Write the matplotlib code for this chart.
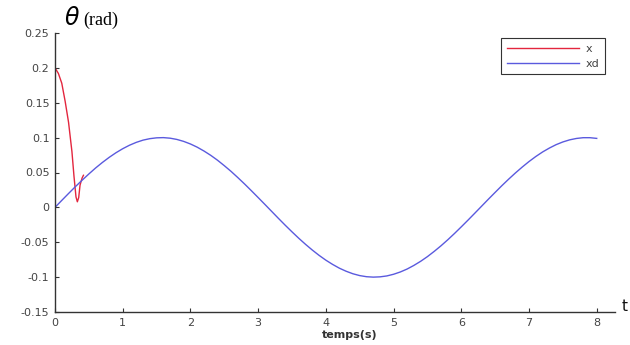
import numpy as np
import matplotlib.pyplot as plt

# time grid (s)
t = np.round(np.arange(81) * 0.1, 1)

# reference trajectory xd (rad), read every 0.1 s
xd = [0.0000, 0.0100, 0.0199, 0.0296, 0.0389, 0.0479, 0.0565, 0.0644, 0.0717, 0.0783,
      0.0841, 0.0891, 0.0932, 0.0964, 0.0985, 0.0997, 0.1000, 0.0992, 0.0974, 0.0946,
      0.0909, 0.0863, 0.0808, 0.0746, 0.0676, 0.0598, 0.0516, 0.0427, 0.0335, 0.0239,
      0.0141, 0.0042, -0.0058, -0.0158, -0.0256, -0.0351, -0.0443, -0.0530, -0.0612, -0.0688,
      -0.0757, -0.0818, -0.0872, -0.0916, -0.0952, -0.0978, -0.0994, -0.1000, -0.0996, -0.0983,
      -0.0959, -0.0926, -0.0884, -0.0832, -0.0773, -0.0706, -0.0631, -0.0551, -0.0465, -0.0374,
      -0.0279, -0.0182, -0.0083, 0.0017, 0.0117, 0.0215, 0.0312, 0.0405, 0.0494, 0.0578,
      0.0657, 0.0729, 0.0794, 0.0850, 0.0899, 0.0938, 0.0968, 0.0988, 0.0999, 0.0999,
      0.0989]

# measured angle x (rad), only the first part of the run
t_x = [0, 0.05, 0.1, 0.15, 0.2, 0.25, 0.28, 0.31, 0.33, 0.35, 0.37, 0.4, 0.42]
x = [0.200, 0.192, 0.178, 0.152, 0.122, 0.080, 0.045, 0.015, 0.008, 0.014, 0.032, 0.042, 0.046]

plt.rcParams['font.family'] = ['DejaVu Sans']

fig = plt.figure(figsize=(6.3, 3.45), dpi=100)
ax = fig.add_axes([55 / 630, 33 / 345, 560 / 630, 279 / 345])

ax.plot(t_x, x, color='#e3263e', lw=1.0, label='x')
ax.plot(t, xd, color='#5a5ade', lw=1.0, label='xd')

ax.set_xlim(0, 8.27)
ax.set_ylim(-0.15, 0.25)
ax.set_xticks(range(9))
ax.set_yticks([-0.15, -0.1, -0.05, 0, 0.05, 0.1, 0.15, 0.2, 0.25])
ax.set_yticklabels(['-0.15', '-0.1', '-0.05', '0', '0.05', '0.1', '0.15', '0.2', '0.25'])
ax.tick_params(direction='in', length=3, width=0.8, labelsize=8,
               labelcolor='#444444', color='#333333', pad=4)

for side in ('top', 'right'):
    ax.spines[side].set_visible(False)
for side in ('left', 'bottom'):
    ax.spines[side].set_color('#333333')
    ax.spines[side].set_linewidth(1.0)

ax.text(0.527, -0.082, 'temps(s)', transform=ax.transAxes, ha='center', va='center',
        fontsize=8, color='#333333', fontweight='bold')
ax.text(1.018, 0.02, 't', transform=ax.transAxes, ha='center', va='center',
        fontsize=11, color='#111111')

fig.text(72 / 630, 1 - 18 / 345, r'$\theta$', ha='center', va='center', fontsize=17)
fig.text(83 / 630, 1 - 20 / 345, '(rad)', ha='left', va='center', fontsize=13,
         family='Liberation Serif')

leg = ax.legend(loc='upper right', bbox_to_anchor=(0.982, 0.982), fontsize=8,
                frameon=True, fancybox=False, framealpha=1, edgecolor='#333333',
                handlelength=6.5, handletextpad=0.6, labelspacing=0.45,
                borderpad=0.5, borderaxespad=0)
leg.get_frame().set_linewidth(0.8)
for txt in leg.get_texts():
    txt.set_color('#444444')

fig.savefig('out.png', dpi=100)
